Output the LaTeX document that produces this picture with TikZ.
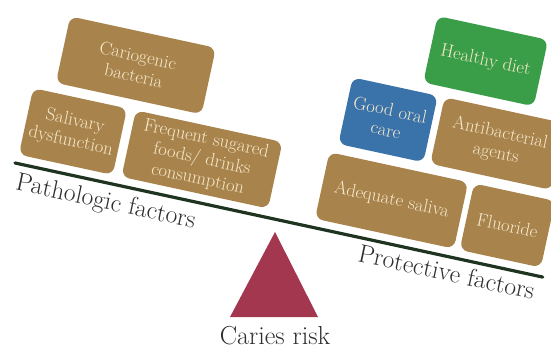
\documentclass[tikz,border=0pt]{standalone}
\usetikzlibrary{positioning}
\definecolor{boxBrown}{RGB}{168,131,76}
\definecolor{boxGreen}{RGB}{58,158,72}
\definecolor{boxBlue}{RGB}{58,114,170}
\definecolor{boxText}{RGB}{246,233,204}
\definecolor{beamGreen}{RGB}{30,52,32}
\definecolor{fulcrumRed}{RGB}{163,55,80}
\definecolor{labelGray}{RGB}{45,45,45}
\tikzset{
  factor box/.style={
    fill=boxBrown,
    rounded corners=8pt,
    minimum height=68pt,
    inner sep=0pt,
    align=center,
    text=boxText,
    font=\fontsize{18.5}{20.5}\selectfont
  },
  factor label/.style={
    text=labelGray,
    anchor=base,
    font=\fontsize{25.5}{28}\selectfont
  },
  balance beam/.style={draw=beamGreen, line width=3.2pt, line cap=round}
}
\newcommand{\factorBox}[6][]{%
  \node[factor box,minimum width=#5pt,#1] (#2) at (#3,#4) {#6};%
}

\begin{document}
\begin{tikzpicture}[x=1pt,y=1pt]
  \useasboundingbox (0,0) rectangle (551,351);

  \begin{scope}[shift={(15,188)},rotate=-12.2,transform shape]
    \coordinate (beam west) at (0,0);
    \coordinate (beam east) at (540,0);
    \draw[balance beam] (beam west) -- (beam east);

    % pathologic side
    \factorBox{salivary}{50}{43}{96}{Salivary\\dysfunction}
    \factorBox{sugar}{182}{43}{150}{Frequent sugared\\foods/ drinks\\consumption}
    \factorBox{bacteria}{97.5}{121}{149}{Cariogenic\\bacteria}

    % protective side
    \factorBox{saliva}{376}{43}{142}{Adequate saliva}
    \factorBox{fluoride}{494.5}{43}{83}{Fluoride}
    \factorBox[fill=boxBlue]{oralcare}{355.5}{121}{87}{Good oral\\care}
    \factorBox{antibacterial}{468}{121}{124}{Antibacterial\\agents}
    \factorBox[fill=boxGreen]{diet}{438.5}{199}{113}{Healthy diet}

    \node[factor label] (pathologic) at (97,-26) {Pathologic factors};
    \node[factor label] (protective) at (445,-24) {Protective factors};
  \end{scope}

  \coordinate (fulcrum top) at (275,119);
  \coordinate (fulcrum left) at (230,34);
  \coordinate (fulcrum right) at (318,34);
  \fill[fulcrumRed] (fulcrum top) -- (fulcrum right) -- (fulcrum left) -- cycle;
  \node[factor label,font=\fontsize{26}{28}\selectfont] (risk) at (275,7) {Caries risk};
\end{tikzpicture}
\end{document}
